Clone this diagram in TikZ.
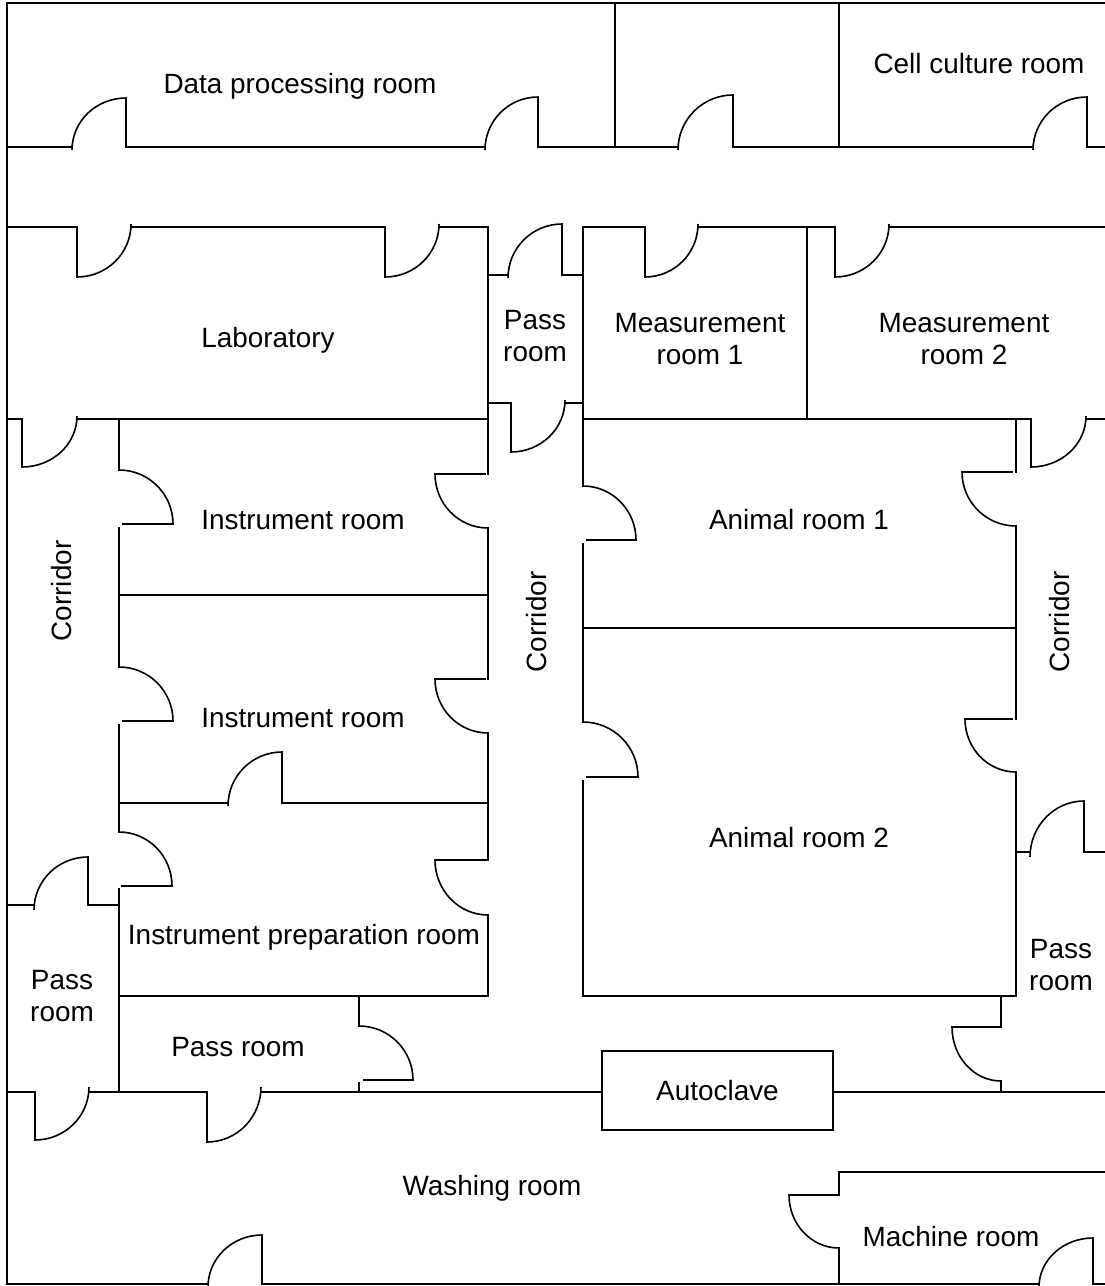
\documentclass[tikz,border=0pt]{standalone}
\usepackage{fontspec}
\setmainfont{Liberation Sans}
\usetikzlibrary{calc}
\begin{document}
\begin{tikzpicture}[x=1pt,y=-1pt,
    wall/.style={line width=1.6pt,line cap=rect},
    rm/.style={font=\fontsize{27.9}{32}\selectfont,align=center,inner sep=0pt}]
 \useasboundingbox (0,0) rectangle (1104,1286);
 % outer walls
 \draw[wall,line width=2pt] (1104,3) -- (7,3) -- (7,1284) -- (208,1284);
 \draw[wall,line width=2pt] (262,1284) -- (1039,1284);
 \draw[wall,line width=2pt] (1093,1284) -- (1104,1284);
 % upper corridor
 \draw[wall] (615,3) -- (615,147);
 \draw[wall] (839,3) -- (839,147);
 \draw[wall] (7,147) -- (72,147) (126,147) -- (485,147) (538,147) -- (678,147)
   (733,147) -- (1033,147) (1087,147) -- (1104,147);
 \draw[wall] (7,227) -- (77,227) (131,227) -- (385,227) (439,227) -- (488,227)
   (583,227) -- (645,227) (698,227) -- (835,227) (889,227) -- (1104,227);
 % pass room, measurement rooms
 \draw[wall] (488,227) -- (488,474) (488,528) -- (488,679) (488,733) -- (488,860)
   (488,915) -- (488,996) -- (119,996);
 \draw[wall] (583,227) -- (583,486) (583,544) -- (583,722) (583,781) -- (583,996) -- (1016,996);
 \draw[wall] (488,275) -- (508,275) (562,275) -- (583,275);
 \draw[wall] (488,403) -- (511,403) (565,403) -- (583,403);
 \draw[wall] (807,227) -- (807,419);
 \draw[wall] (7,419) -- (22,419) (77,419) -- (488,419);
 \draw[wall] (583,419) -- (1031,419) (1086,419) -- (1104,419);
 % instrument rooms
 \draw[wall] (119,419) -- (119,470) (119,528) -- (119,667) (119,725) -- (119,832)
   (119,889) -- (119,1092);
 \draw[wall] (119,595) -- (488,595);
 \draw[wall] (119,803) -- (228,803) (282,803) -- (488,803);
 \draw[wall] (7,905) -- (34,905) (88,905) -- (119,905);
 % animal rooms
 \draw[wall] (583,628) -- (1016,628);
 \draw[wall] (1016,419) -- (1016,472) (1016,526) -- (1016,719) (1016,772) -- (1016,996);
 \draw[wall] (1016,852) -- (1030,852) (1084,852) -- (1104,852);
 % lower corridor
 \draw[wall] (1001,996) -- (1001,1027) (1001,1081) -- (1001,1092);
 \draw[wall] (359,996) -- (359,1026) (359,1083) -- (359,1092);
 \draw[wall] (7,1092) -- (35,1092) (89,1092) -- (207,1092) (261,1092) -- (602,1092);
 \draw[wall] (833,1092) -- (1104,1092);
 \node[rm,draw,line width=1.6pt,minimum width=231pt,minimum height=79pt] (autoclave) at (717.5,1090.5) {Autoclave};
 % machine room
 \draw[wall] (1104,1172) -- (839,1172) -- (839,1195) (839,1248) -- (839,1284);
 % doors: centre/leaf tip/open end/gap
 \foreach \cx/\cy/\tx/\ty/\ox/\oy/\g in {
   126/150/126/98/72/150/3, 538/150/538/97/485/150/3, 733/150/733/95/678/150/3,
   1087/150/1087/97/1033/150/3, 77/224/77/277/131/224/3, 385/224/385/277/439/224/3,
   562/278/562/224/508/278/3, 511/400/511/452/565/400/3, 645/224/645/277/698/224/3,
   835/224/835/277/889/224/3, 22/416/22/467/77/416/3, 1031/416/1031/467/1086/416/3,
   119/524/173/524/119/470/4, 119/721/173/721/119/667/4, 119/886/172/886/119/832/3,
   282/806/282/752/228/806/3, 488/474/435/474/488/528/3, 488/679/435/679/488/733/3,
   488/860/435/860/488/915/2, 583/540/636/540/583/486/4, 583/777/638/777/583/722/4,
   1016/472/962/472/1016/526/4, 1016/719/965/719/1016/772/4, 1084/857/1084/801/1030/857/5,
   1001/1027/952/1027/1001/1081/0, 88/910/88/857/34/910/5, 35/1087/35/1140/89/1087/5,
   207/1087/207/1142/261/1087/5, 359/1080/413/1080/359/1026/5, 262/1287/262/1235/208/1287/3,
   839/1195/789/1195/839/1248/0, 1093/1287/1093/1238/1039/1287/3} {
  \draw[wall,shorten >=\g pt] (\tx,\ty) -- (\cx,\cy);
  \draw[line width=1.6pt] (\tx,\ty)
   .. controls ($(\tx,\ty)+0.5523*(\ox,\oy)-0.5523*(\cx,\cy)$)
   and ($(\ox,\oy)+0.5523*(\tx,\ty)-0.5523*(\cx,\cy)$) .. (\ox,\oy);
 }
 % room names
 \node[rm] (data) at (300,86) {Data processing room};
 \node[rm] (cell) at (979,64) {Cell culture room};
 \node[rm] (lab) at (268,340) {Laboratory};
 \node[rm] (passa) at (535,336) {Pass\\room};
 \node[rm] (meas1) at (700,339) {Measurement\\room 1};
 \node[rm] (meas2) at (964,339) {Measurement\\room 2};
 \node[rm] (instr1) at (303,520) {Instrument room};
 \node[rm] (instr2) at (303,718) {Instrument room};
 \node[rm] (prep) at (304,937) {Instrument preparation room};
 \node[rm] (anim1) at (799,520) {Animal room 1};
 \node[rm] (anim2) at (799,838) {Animal room 2};
 \node[rm,rotate=90] (corr1) at (62,591) {Corridor};
 \node[rm,rotate=90] (corr2) at (537,622) {Corridor};
 \node[rm,rotate=90] (corr3) at (1060,622) {Corridor};
 \node[rm] (passb) at (62,996) {Pass\\room};
 \node[rm] (passc) at (238,1047) {Pass room};
 \node[rm] (passd) at (1061,965) {Pass\\room};
 \node[rm] (wash) at (492,1188) {Washing room};
 \node[rm] (mach) at (951,1237) {Machine room};
\end{tikzpicture}
\end{document}
